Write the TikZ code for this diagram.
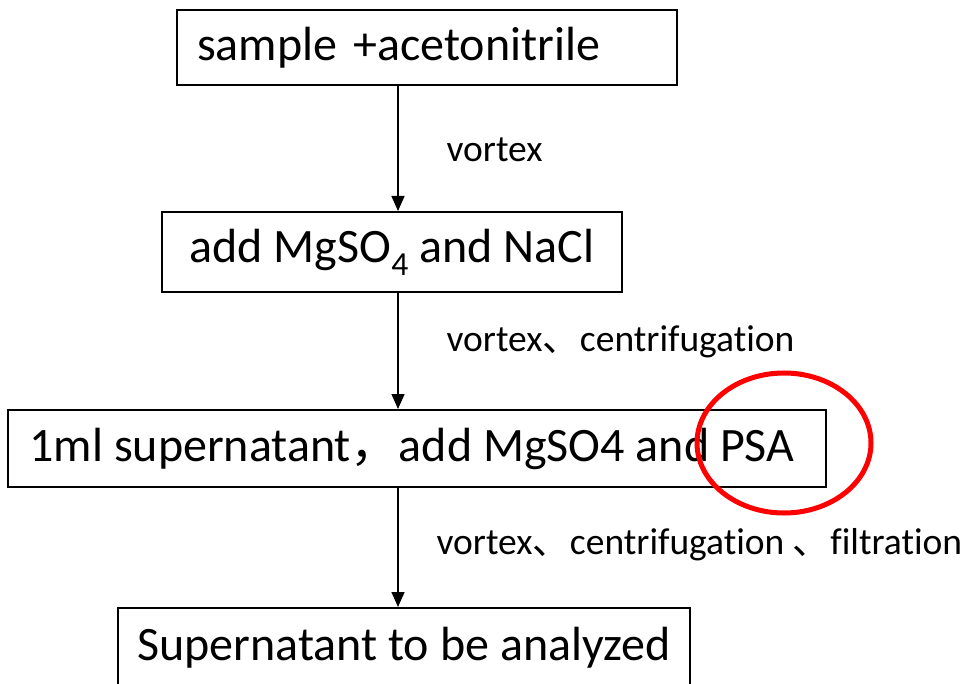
\documentclass[tikz,border=0pt]{standalone}
\usepackage{fontspec}
\setmainfont[Ligatures = NoCommon]{Carlito}
\newfontfamily\cjk{Noto Sans CJK SC}
\usetikzlibrary{arrows.meta}

\tikzset{
  stepbox/.style = {draw, line width = 2pt, inner sep = 0pt, font = \fontsize{48}{56}\selectfont},
  arr/.style = {line width = 1.5pt, -{Triangle[length = 15pt, width = 13pt]}},
  lbl/.style = {anchor = west, font = \fontsize{37.5}{44}\selectfont}
}

\begin{document}
\begin{tikzpicture}[x = 1pt, y = -1pt]
\useasboundingbox (0, 0) rectangle (966, 684);
%\draw [help lines, step = 50] (0, 0) grid (966, 684);
\node [stepbox, minimum width = 500, minimum height = 75, text width = 460, align = left] (b1) at (427, 47.5) {sample +acetonitrile};
\node [stepbox, minimum width = 460, minimum height = 80] (b2) at (392, 252) {add MgSO\textsubscript{4} and NaCl};
\node [stepbox, minimum width = 818, minimum height = 77] (b3) at (417, 448.5) {1ml supernatant{\cjk ，}add MgSO4 and PSA\hspace*{10pt}};
\node [stepbox, minimum width = 572, minimum height = 80] (b4) at (404, 648) {Supernatant to be analyzed};
\coordinate (spine) at (398, 0);
\draw [arr] (b1.south -| spine) -- (b2.north -| spine);
\draw [arr] (b2.south -| spine) -- (b3.north -| spine);
\draw [arr] (b3.south -| spine) -- (b4.north -| spine);
\node [lbl] (l1) at (443, 150) {vortex};
\node [lbl] (l2) at (443, 342) {vortex{\cjk 、}centrifugation};
\node [lbl] (l3) at (433, 545) {vortex{\cjk 、}centrifugation {\cjk 、}filtration};
% highlight
\draw [red, line width = 5pt] (784, 443) ellipse [x radius = 87, y radius = 70];
\end{tikzpicture}
\end{document}
